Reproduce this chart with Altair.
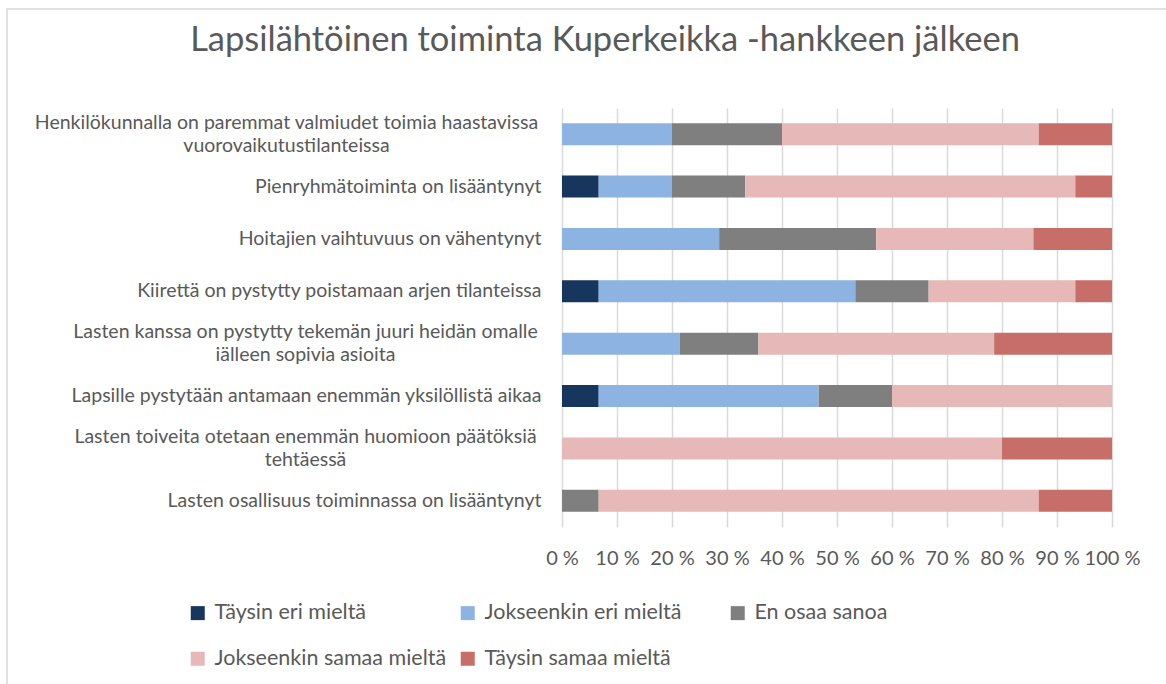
import altair as alt
import pandas as pd

categories = [
    "Henkilökunnalla on paremmat valmiudet toimia haastavissa vuorovaikutustilanteissa",
    "Pienryhmätoiminta on lisääntynyt",
    "Hoitajien vaihtuvuus on vähentynyt",
    "Kiirettä on pystytty poistamaan arjen tilanteissa ",
    "Lasten kanssa on pystytty tekemän juuri heidän omalle iälleen sopivia asioita",
    "Lapsille pystytään antamaan enemmän yksilöllistä aikaa",
    "Lasten toiveita otetaan enemmän huomioon päätöksiä tehtäessä",
    "Lasten osallisuus toiminnassa on lisääntynyt",
]
series = [
    "Täysin eri mieltä",
    "Jokseenkin eri mieltä",
    "En osaa sanoa",
    "Jokseenkin samaa mieltä",
    "Täysin samaa mieltä",
]
taysin_eri = [0, 6.67, 0, 6.67, 0, 6.67, 0, 0]
jokseenkin_eri = [20, 13.33, 28.57, 46.67, 21.43, 40, 0, 0]
en_osaa = [20, 13.33, 28.57, 13.33, 14.29, 13.33, 0, 6.67]
jokseenkin_samaa = [46.67, 60, 28.57, 26.67, 42.86, 40, 80, 80]
taysin_samaa = [13.33, 6.67, 14.29, 6.67, 21.43, 0, 20, 13.33]
colors = ["#17365D", "#8DB3E2", "#7F7F7F", "#E6B9B8", "#C86E69"]
x_ticks = [0, 10, 20, 30, 40, 50, 60, 70, 80, 90, 100]
title_text = ["Lapsilähtöinen toiminta Kuperkeikka -hankkeen jälkeen"]

# wrapped (two-line) category labels
wrapped = {
    categories[0]: ["Henkilökunnalla on paremmat valmiudet toimia haastavissa", "vuorovaikutustilanteissa"],
    categories[4]: ["Lasten kanssa on pystytty tekemän juuri heidän omalle", "iälleen sopivia asioita"],
    categories[6]: ["Lasten toiveita otetaan enemmän huomioon päätöksiä", "tehtäessä"],
}

# legend fills column by column (2 rows x 3 columns); this order reads row-wise
# as: row 1 = series 0,1,2 ; row 2 = series 3,4
legend_order = [0, 3, 1, 4, 2]
legend_domain = [series[i] for i in legend_order]
legend_range = [colors[i] for i in legend_order]

all_values = [taysin_eri, jokseenkin_eri, en_osaa, jokseenkin_samaa, taysin_samaa]
rows = []
for si, (s, vals) in enumerate(zip(series, all_values)):
    for c, v in zip(categories, vals):
        rows.append({"kategoria": c, "vastaus": s, "osuus": v, "jarj": si})
df = pd.DataFrame(rows)

FONT = "Lato"
TXT = "#595959"

label_expr = ""
for k, lines in wrapped.items():
    arr = "[" + ",".join("'" + l + "'" for l in lines) + "]"
    label_expr += f"datum.label == '{k}' ? {arr} : "
label_expr += "datum.label"

test_any = " || ".join(f"datum.value == '{k}'" for k in wrapped)

bars = alt.Chart(df).mark_bar(size=22).encode(
    y=alt.Y(
        "kategoria:N",
        sort=categories,
        title=None,
        scale=alt.Scale(paddingInner=0.59, paddingOuter=0.295),
        axis=alt.Axis(
            domain=False,
            ticks=False,
            grid=False,
            labelFont=FONT,
            labelFontSize=19.5,
            labelColor=TXT,
            labelLimit=0,
            labelLineHeight=23,
            labelExpr=label_expr,
            labelAlign={"condition": {"test": test_any, "value": "center"}, "value": "right"},
            labelOffset={"condition": {"test": test_any, "value": -11.5}, "value": 0},
            labelPadding={
                "condition": [
                    {"test": f"datum.value == '{categories[0]}'", "value": 276},
                    {"test": f"datum.value == '{categories[4]}' || datum.value == '{categories[6]}'", "value": 257},
                ],
                "value": 21,
            },
        ),
    ),
    x=alt.X(
        "osuus:Q",
        stack="normalize",
        title=None,
        scale=alt.Scale(domain=[0, 1], nice=False),
        axis=alt.Axis(
            values=[t / 100 for t in x_ticks],
            labelExpr="format(datum.value * 100, '.0f') + ' %'",
            domain=False,
            ticks=False,
            grid=True,
            gridColor="#D9D9D9",
            gridWidth=1.5,
            labelFont=FONT,
            labelFontSize=20,
            labelColor=TXT,
            labelPadding=21,
            labelFlush=False,
            labelOverlap=False,
        ),
    ),
    color=alt.Color(
        "vastaus:N",
        scale=alt.Scale(domain=legend_domain, range=legend_range),
        legend=alt.Legend(
            title=None,
            orient="none",
            legendX=-375,
            legendY=494,
            columns=3,
            direction="vertical",
            gridAlign="all",
            symbolType="square",
            symbolSize=196,
            symbolStrokeWidth=0,
            labelFont=FONT,
            labelFontSize=21.5,
            labelColor=TXT,
            labelOffset=6,
            rowPadding=23,
            columnPadding=10,
            labelLimit=0,
        ),
    ),
    order=alt.Order("jarj:Q"),
)

border = alt.Chart(pd.DataFrame({"a": [0]})).mark_rect(
    fill=None, stroke="#D9D9D9", strokeWidth=1.5
).encode(
    x=alt.value(-555), x2=alt.value(640), y=alt.value(-99), y2=alt.value(640)
)

title = alt.Chart(pd.DataFrame({"t": title_text})).mark_text(
    font=FONT, fontSize=34.5, color=TXT, align="center", baseline="alphabetic"
).encode(
    text="t:N", x=alt.value(43), y=alt.value(-57)
)

chart = alt.layer(border, bars, title).properties(
    width=550,
    height=419,
    padding={"left": 562, "top": 108, "right": 54, "bottom": 157},
    autosize=alt.AutoSizeParams(type="none"),
    background="white",
).configure_view(stroke=None)

chart.save("out.html", embed_options={"renderer": "svg", "actions": False})
